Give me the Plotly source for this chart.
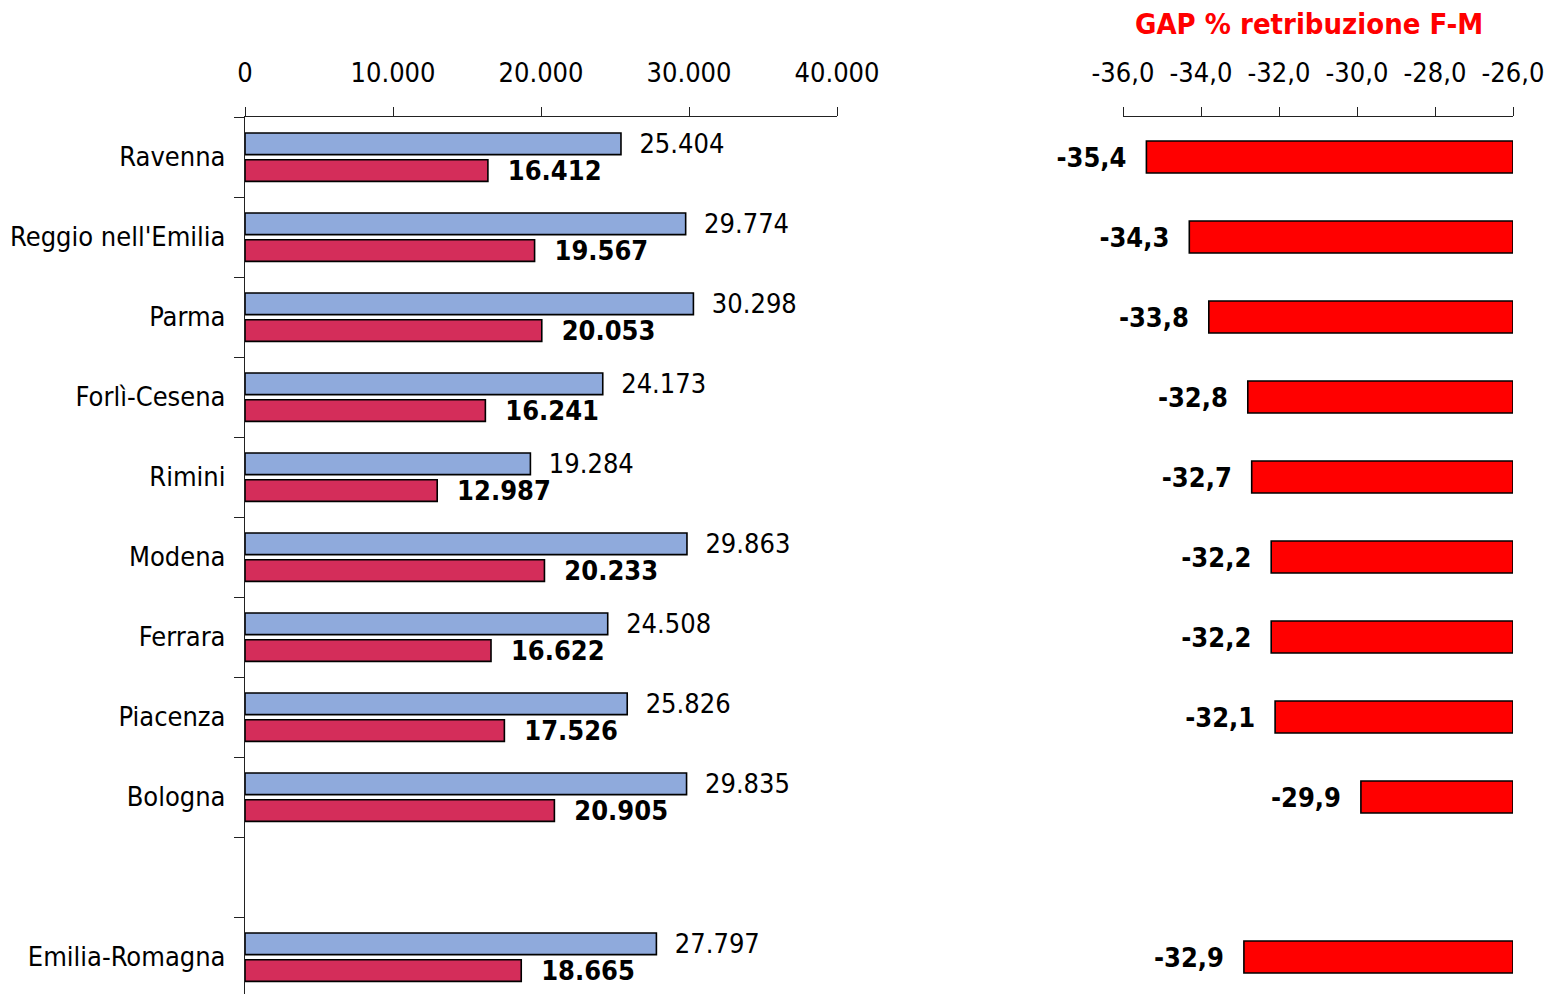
import plotly.graph_objects as go

categories = ["Ravenna", "Reggio nell'Emilia", "Parma", "Forlì-Cesena", "Rimini",
              "Modena", "Ferrara", "Piacenza", "Bologna", " ", "Emilia-Romagna"]
maschi = [25404, 29774, 30298, 24173, 19284, 29863, 24508, 25826, 29835, None, 27797]
femmine = [16412, 19567, 20053, 16241, 12987, 20233, 16622, 17526, 20905, None, 18665]
gap = [-35.4, -34.3, -33.8, -32.8, -32.7, -32.2, -32.2, -32.1, -29.9, None, -32.9]
gap_base = -26.0

val_ticks = [0, 10000, 20000, 30000, 40000]
gap_ticks = [-36, -34, -32, -30, -28, -26]
gap_ticklabels = ["-36,0", "-34,0", "-32,0", "-30,0", "-28,0", "-26,0"]

W, H = 1551, 994
TOP = 117
FONT = "DejaVu Sans Condensed, Liberation Sans Narrow, Arial Narrow, sans-serif"
FS = 27
NB = "\u00a0\u00a0"

fig = go.Figure()

fig.add_trace(go.Bar(
    y=categories, x=maschi, orientation="h",
    width=0.27, offset=-0.30,
    marker=dict(color="#8FAADC", line=dict(color="black", width=1.6)),
    texttemplate=NB + "%{x:,.0f}", textposition="outside",
    textfont=dict(family=FONT, size=FS, color="black"),
    constraintext="none", cliponaxis=False,
    xaxis="x", yaxis="y", name="M", showlegend=False,
))
fig.add_trace(go.Bar(
    y=categories, x=femmine, orientation="h",
    width=0.27, offset=0.035,
    marker=dict(color="#D42D5A", line=dict(color="black", width=1.6)),
    texttemplate=NB + "%{x:,.0f}", textposition="outside",
    textfont=dict(family=FONT, size=FS, color="black", weight="bold"),
    constraintext="none", cliponaxis=False,
    xaxis="x", yaxis="y", name="F", showlegend=False,
))

gap_len = [None if g is None else g - gap_base for g in gap]
fig.add_trace(go.Bar(
    y=categories, x=gap_len, base=gap_base, orientation="h",
    width=0.4, offset=-0.2,
    customdata=gap,
    marker=dict(color="#FF0000", line=dict(color="black", width=1.6)),
    texttemplate="%{customdata:.1f}" + NB, textposition="outside",
    textfont=dict(family=FONT, size=FS, color="black", weight="bold"),
    constraintext="none", cliponaxis=False,
    xaxis="x2", yaxis="y2", name="GAP", showlegend=False,
))

plot_h = H - TOP
yrange = [-0.5 + plot_h / 80.0, -0.5]

axis_font = dict(family=FONT, size=FS, color="black")

fig.update_layout(
    width=W, height=H,
    margin=dict(l=0, r=0, t=TOP, b=0, autoexpand=False),
    paper_bgcolor="white", plot_bgcolor="white",
    separators=",.",
    barmode="overlay",
    xaxis=dict(
        domain=[245 / W, 837 / W], range=[0, 40000], side="top",
        tickvals=val_ticks, tickformat=",.0f", tickangle=0,
        showline=True, linecolor="#222", linewidth=1.2,
        ticks="outside", ticklen=9, tickcolor="#222", tickwidth=1.2,
        showgrid=False, zeroline=False, tickfont=axis_font,
        ticklabelstandoff=14, automargin=False, anchor="y",
    ),
    yaxis=dict(
        domain=[0, 1], type="category", categoryorder="array", categoryarray=categories,
        range=yrange, showline=True, linecolor="#222", linewidth=1.2,
        ticks="outside", tickson="boundaries", ticklen=10, tickcolor="#222", tickwidth=1.2,
        showgrid=False, zeroline=False, tickfont=axis_font,
        ticklabelstandoff=13, automargin=False, anchor="x",
    ),
    xaxis2=dict(
        domain=[1123 / W, 1513 / W], range=[-36, -26], side="top",
        tickvals=gap_ticks, ticktext=gap_ticklabels, tickangle=0,
        showline=True, linecolor="#222", linewidth=1.2,
        ticks="outside", ticklen=9, tickcolor="#222", tickwidth=1.2,
        showgrid=False, zeroline=False, tickfont=axis_font,
        ticklabelstandoff=14, automargin=False, anchor="y2",
    ),
    yaxis2=dict(
        domain=[0, 1], type="category", categoryorder="array", categoryarray=categories,
        range=yrange, showline=False, showticklabels=False, ticks="",
        showgrid=False, zeroline=False, automargin=False, anchor="x2",
    ),
    annotations=[dict(
        text="<b>GAP % retribuzione F-M</b>", xref="paper", yref="paper",
        x=1309 / W, y=1 + (TOP - 24) / plot_h, xanchor="center", yanchor="middle",
        showarrow=False, font=dict(family=FONT, size=29, color="#FF0000"),
    )],
)

fig.write_html("out.html", config={"displayModeBar": False},
               post_script="document.body.style.margin='0';document.body.style.overflow='hidden';")
